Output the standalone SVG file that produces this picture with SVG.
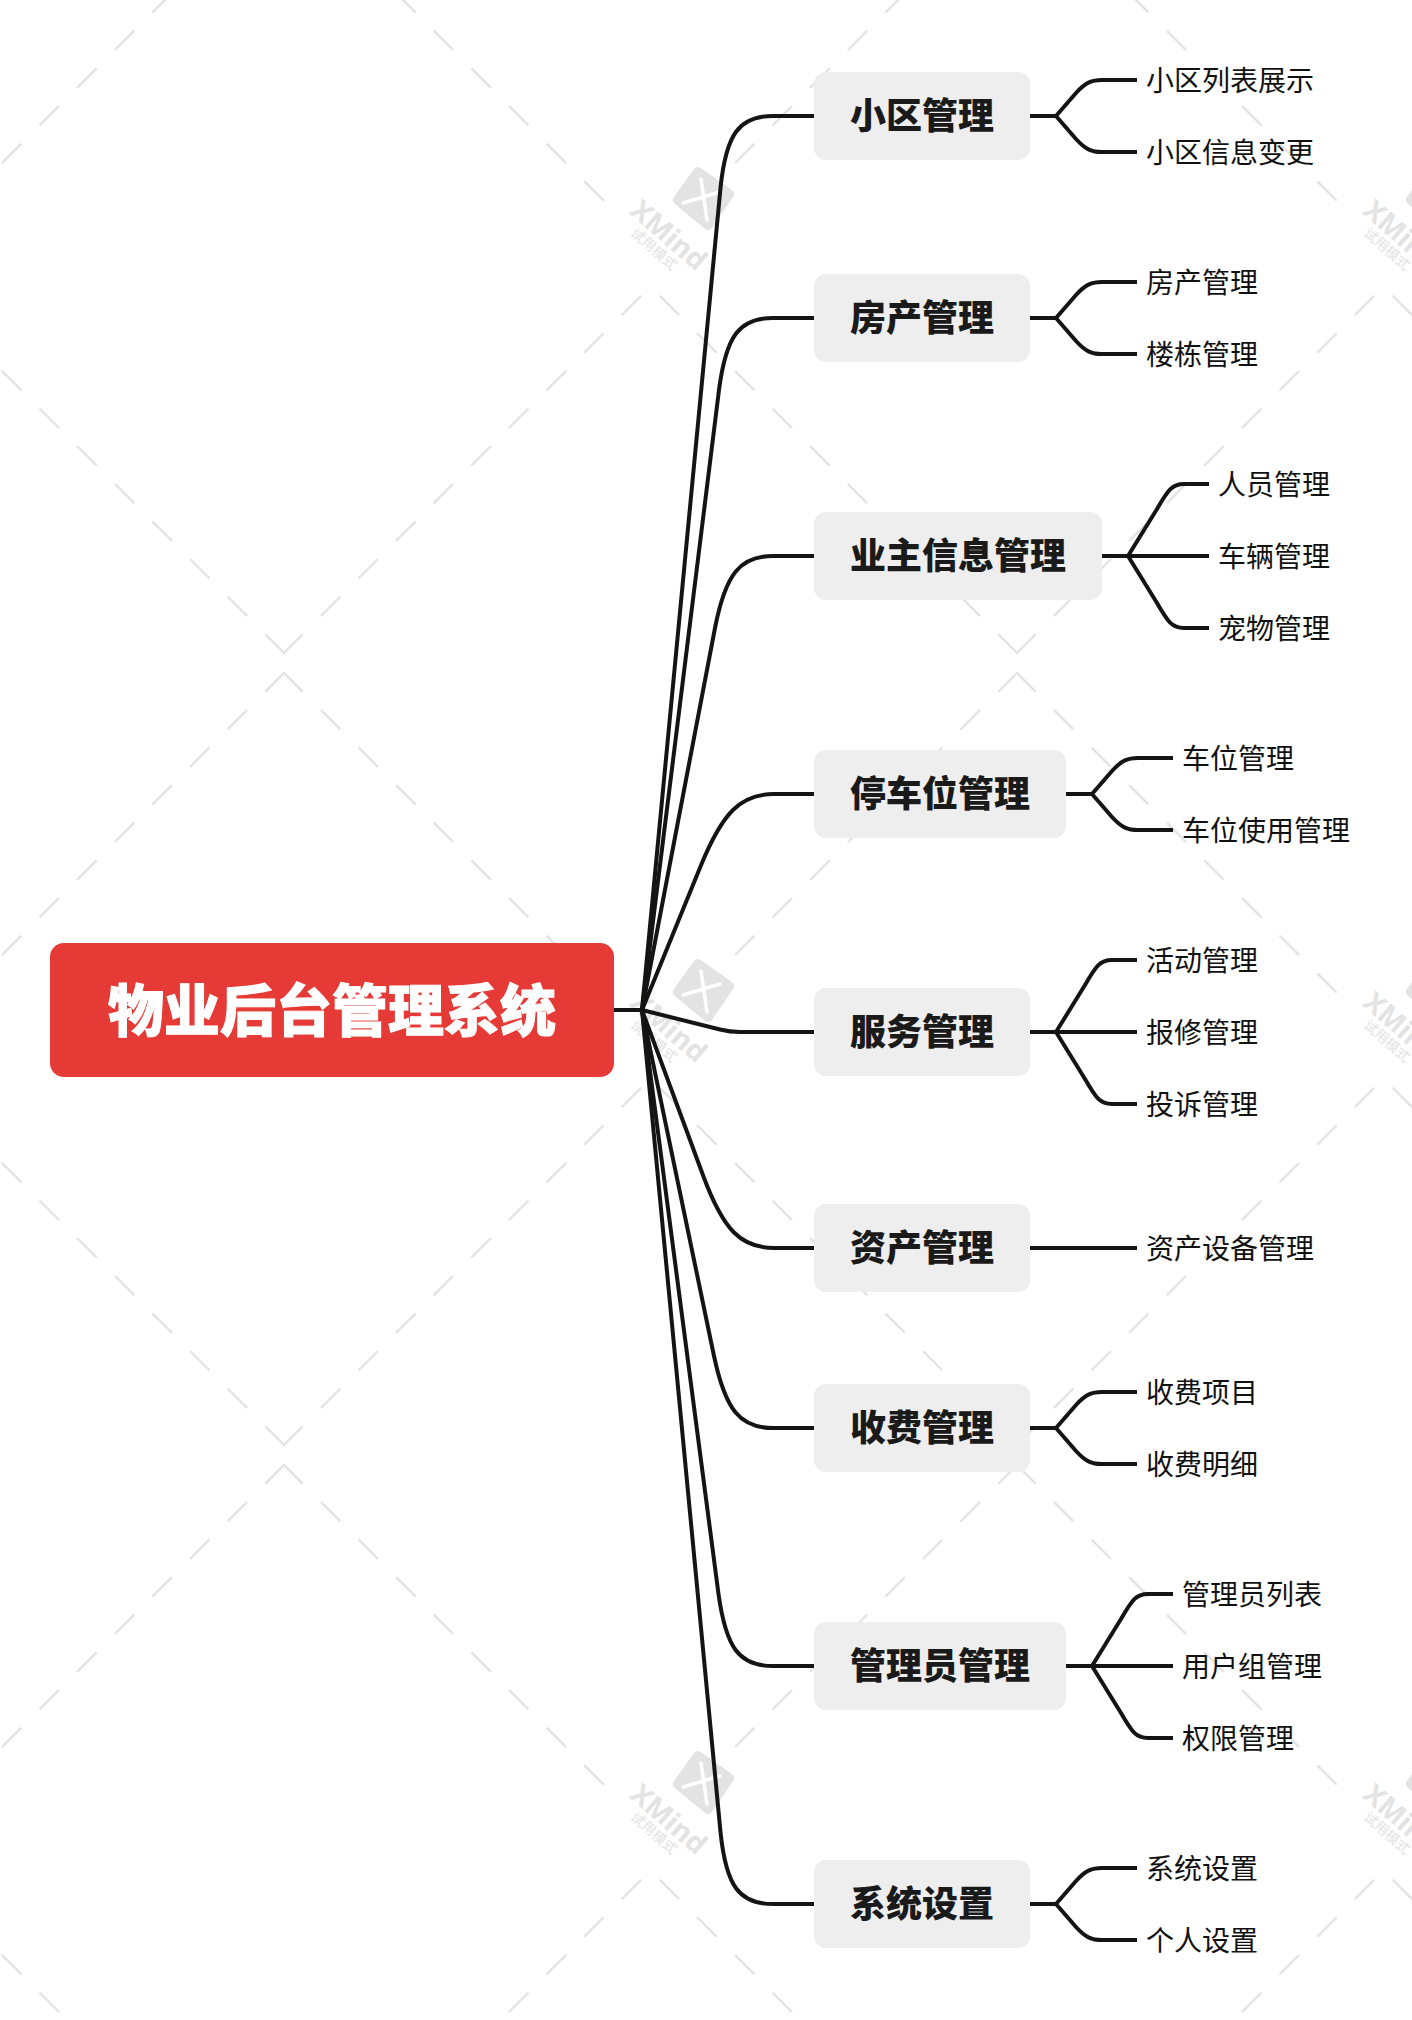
<svg xmlns="http://www.w3.org/2000/svg" xmlns:xlink="http://www.w3.org/1999/xlink" width="1412" height="2020" viewBox="0 0 1412 2020">
<style>
text{font-family:"Noto Sans CJK SC","Liberation Sans",sans-serif}
.wl{fill:none;stroke:#e3e3e3;stroke-width:2.4;stroke-linecap:round;stroke-dasharray:25.5 27.7}
.wx{fill:#e3e3e3;font-family:"Open Sans","Liberation Sans",sans-serif;font-size:28px;font-weight:700;text-anchor:middle}
.wt{fill:#e3e3e3;font-size:14px;text-anchor:middle}
.lg{fill:#e3e3e3;stroke:#e3e3e3;stroke-width:10;stroke-linejoin:round}
.lx{fill:none;stroke:#fff;stroke-width:3.6;stroke-linecap:round}
.c{fill:none;stroke:#141414;stroke-width:4;stroke-linejoin:round;stroke-linecap:butt}
.t{fill:#eeeeee}
.tt{fill:#1a1a1a;font-size:36px;font-weight:900;text-anchor:middle}
.lt{fill:#111;font-size:28px;font-weight:400}
.rt{fill:#fff;font-size:56px;font-weight:900;text-anchor:middle;stroke:#fff;stroke-width:1}
</style>
<defs>
<g id="wl-tile">
<path class="wl" d="M284 -119L604 201"/>
<path class="wl" d="M284 -119L-36 201"/>
<path class="wl" d="M284 653L651 286"/>
<path class="wl" d="M284 653L-83 286"/>
</g>
<g id="wm">
<polygon class="lg" points="698,172 729,194 708,225 678,200"/>
<path class="lx" d="M701 179L707 220M683 203L720 192"/>
<text class="wx" transform="translate(669 235) rotate(41)" y="10">XMind</text>
<text class="wt" transform="translate(654 249) rotate(41)" y="5">试用模式</text>
</g>
</defs>
<rect width="1412" height="2020" fill="#fff"/>
<g id="watermark">
<use href="#wl-tile"/><use href="#wl-tile" x="733"/><use href="#wl-tile" x="1466"/>
<use href="#wl-tile" y="792"/><use href="#wl-tile" x="733" y="792"/><use href="#wl-tile" x="1466" y="792"/>
<use href="#wl-tile" y="1584"/><use href="#wl-tile" x="733" y="1584"/><use href="#wl-tile" x="1466" y="1584"/>
<use href="#wm"/><use href="#wm" x="733"/>
<use href="#wm" y="792"/><use href="#wm" x="733" y="792"/>
<use href="#wm" y="1584"/><use href="#wm" x="733" y="1584"/>
</g>
<g id="connectors">
<path class="c" d="M614 1010H642L720.5 188C726 134 739 116 773 116H814"/>
<path class="c" d="M642 1010L719 390C726 336 739 318 773 318H814"/>
<path class="c" d="M642 1010L715 628C725.5 574 740 556 773 556H814"/>
<path class="c" d="M642 1010L700.7 866C722.7 812 741 794 774 794H814"/>
<path class="c" d="M642 1010L720 1029.5C727.5 1031.4 732 1032 740 1032H814"/>
<path class="c" d="M642 1010L703.3 1176C723.3 1230 741 1248 774 1248H814"/>
<path class="c" d="M642 1010L714 1356C725.4 1410 740 1428 773 1428H814"/>
<path class="c" d="M642 1010L718.5 1594C726 1648 739 1666 773 1666H814"/>
<path class="c" d="M642 1010L720.5 1832C726 1886 739 1904 773 1904H814"/>
<path class="c" d="M1030 116H1056L1076 93C1086 82 1092 80 1102 80H1137M1056 116L1076 139C1086 150 1092 152 1102 152H1137"/>
<path class="c" d="M1030 318H1056L1076 295C1086 284 1092 282 1102 282H1137M1056 318L1076 341C1086 352 1092 354 1102 354H1137"/>
<path class="c" d="M1102 556H1209M1128 556L1157 509C1168 490 1172 484 1184 484H1209M1128 556L1157 603C1168 622 1172 628 1184 628H1209"/>
<path class="c" d="M1066 794H1092L1112 771C1122 760 1128 758 1138 758H1173M1092 794L1112 817C1122 828 1128 830 1138 830H1173"/>
<path class="c" d="M1030 1032H1137M1056 1032L1085 985C1096 966 1100 960 1112 960H1137M1056 1032L1085 1079C1096 1098 1100 1104 1112 1104H1137"/>
<path class="c" d="M1030 1248H1137"/>
<path class="c" d="M1030 1428H1056L1076 1405C1086 1394 1092 1392 1102 1392H1137M1056 1428L1076 1451C1086 1462 1092 1464 1102 1464H1137"/>
<path class="c" d="M1066 1666H1173M1092 1666L1121 1619C1132 1600 1136 1594 1148 1594H1173M1092 1666L1121 1713C1132 1732 1136 1738 1148 1738H1173"/>
<path class="c" d="M1030 1904H1056L1076 1881C1086 1870 1092 1868 1102 1868H1137M1056 1904L1076 1927C1086 1938 1092 1940 1102 1940H1137"/>
</g>
<g id="root"><rect x="50" y="943" width="564" height="134" rx="14" fill="#e53a36"/><text class="rt" x="332" y="1031">物业后台管理系统</text></g>
<g id="t1"><rect class="t" x="814" y="72" width="216" height="88" rx="12"/><text class="tt" x="922" y="129">小区管理</text></g>
<g id="t2"><rect class="t" x="814" y="274" width="216" height="88" rx="12"/><text class="tt" x="922" y="331">房产管理</text></g>
<g id="t3"><rect class="t" x="814" y="512" width="288" height="88" rx="12"/><text class="tt" x="958" y="569">业主信息管理</text></g>
<g id="t4"><rect class="t" x="814" y="750" width="252" height="88" rx="12"/><text class="tt" x="940" y="807">停车位管理</text></g>
<g id="t5"><rect class="t" x="814" y="988" width="216" height="88" rx="12"/><text class="tt" x="922" y="1045">服务管理</text></g>
<g id="t6"><rect class="t" x="814" y="1204" width="216" height="88" rx="12"/><text class="tt" x="922" y="1261">资产管理</text></g>
<g id="t7"><rect class="t" x="814" y="1384" width="216" height="88" rx="12"/><text class="tt" x="922" y="1441">收费管理</text></g>
<g id="t8"><rect class="t" x="814" y="1622" width="252" height="88" rx="12"/><text class="tt" x="940" y="1679">管理员管理</text></g>
<g id="t9"><rect class="t" x="814" y="1860" width="216" height="88" rx="12"/><text class="tt" x="922" y="1917">系统设置</text></g>
<g id="l1a"><text class="lt" x="1146" y="91">小区列表展示</text></g>
<g id="l1b"><text class="lt" x="1146" y="163">小区信息变更</text></g>
<g id="l2a"><text class="lt" x="1146" y="293">房产管理</text></g>
<g id="l2b"><text class="lt" x="1146" y="365">楼栋管理</text></g>
<g id="l3a"><text class="lt" x="1218" y="495">人员管理</text></g>
<g id="l3b"><text class="lt" x="1218" y="567">车辆管理</text></g>
<g id="l3c"><text class="lt" x="1218" y="639">宠物管理</text></g>
<g id="l4a"><text class="lt" x="1182" y="769">车位管理</text></g>
<g id="l4b"><text class="lt" x="1182" y="841">车位使用管理</text></g>
<g id="l5a"><text class="lt" x="1146" y="971">活动管理</text></g>
<g id="l5b"><text class="lt" x="1146" y="1043">报修管理</text></g>
<g id="l5c"><text class="lt" x="1146" y="1115">投诉管理</text></g>
<g id="l6a"><text class="lt" x="1146" y="1258.5">资产设备管理</text></g>
<g id="l7a"><text class="lt" x="1146" y="1402.5">收费项目</text></g>
<g id="l7b"><text class="lt" x="1146" y="1474.5">收费明细</text></g>
<g id="l8a"><text class="lt" x="1182" y="1605">管理员列表</text></g>
<g id="l8b"><text class="lt" x="1182" y="1677">用户组管理</text></g>
<g id="l8c"><text class="lt" x="1182" y="1749">权限管理</text></g>
<g id="l9a"><text class="lt" x="1146" y="1879">系统设置</text></g>
<g id="l9b"><text class="lt" x="1146" y="1951">个人设置</text></g>
</svg>
